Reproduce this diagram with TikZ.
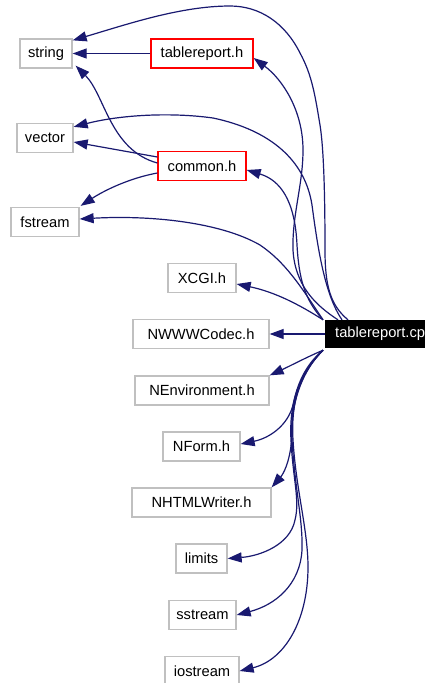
\documentclass[tikz,border=0pt]{standalone}
\usepackage{fontspec}
\setmainfont{Liberation Sans}
\usetikzlibrary{arrows.meta}
\definecolor{edgecol}{HTML}{191970}
\definecolor{boxgray}{HTML}{C0C0C0}
\tikzset{
  box/.style={draw=boxgray, line width=1.3pt, fill=white, minimum height=29pt, inner sep=0pt,
    font=\fontsize{14.7}{17}\selectfont},
  redbox/.style={box, draw=red},
  mainbox/.style={fill=black, text=white, minimum height=28pt, inner sep=0pt, minimum width=118pt,
    font=\fontsize{14.7}{17}\selectfont, anchor=west},
  edge/.style={draw=edgecol, line width=1.2pt, -{Triangle[length=14pt,width=10pt]}}
}
\begin{document}
\begin{tikzpicture}[x=1pt,y=-1pt]
\useasboundingbox (0,0) rectangle (425,683);
\clip (0,0) rectangle (425,683);
\fill[white] (0,0) rectangle (425,683);

\node[box, minimum width=52pt] (string) at (46,53.5) {string};
\node[redbox, minimum width=102pt] (treph) at (202,53.5) {tablereport.h};
\node[box, minimum width=56pt] (vector) at (45,138) {vector};
\node[redbox, minimum width=88pt] (common) at (202,166) {common.h};
\node[box, minimum width=68pt] (fstream) at (45,222) {fstream};
\node[box, minimum width=68pt] (xcgi) at (202,278) {XCGI.h};
\node[box, minimum width=136pt] (codec) at (201,334) {NWWWCodec.h};
\node[mainbox] (cpp) at (325,334) {tablereport.cpp};
\node[box, minimum width=134pt] (env) at (202,390.5) {NEnvironment.h};
\node[box, minimum width=77pt] (nform) at (201.5,446.5) {NForm.h};
\node[box, minimum width=139pt] (html) at (201.5,502.5) {NHTMLWriter.h};
\node[box, minimum width=51pt] (limits) at (201.5,558.5) {limits};
\node[box, minimum width=67pt] (sstream) at (202.5,615) {sstream};
\node[box, minimum width=74pt] (iostream) at (202,671) {iostream};

% edges from tablereport.h and common.h
\draw[edge] (treph.west) -- (string.east);
\draw[edge] ([yshift=3pt]common.west) .. controls (110,150) and (105,95) .. ([xshift=3pt,yshift=3pt]string.south east);
\draw[edge] ([yshift=9pt]common.west) -- ([yshift=-4pt]vector.east);
\draw[edge] ([yshift=-7pt]common.west) .. controls (130,178) and (105,190) .. ([xshift=1pt,yshift=1pt]fstream.north east);

% edges from tablereport.cpp upward
\draw[edge] ([xshift=23pt]cpp.north west) .. controls (330,305) and (325,285) .. (325,250)
  .. controls (325,200) and (324,150) .. (320,125)
  .. controls (315,95) and (312,75) .. (300,53)
  .. controls (285,23) and (260,6) .. (230,6)
  .. controls (180,6) and (125,25) .. ([yshift=-2pt]string.north east);
\draw[edge] ([xshift=17pt]cpp.north west) .. controls (325,295) and (318,250) .. (312,205)
  .. controls (305,160) and (270,130) .. (213,118)
  .. controls (170,112) and (120,115) .. ([yshift=-4pt]vector.north east);
\draw[edge] ([xshift=13pt]cpp.north west) .. controls (315,305) and (295,285) .. (293,250)
  .. controls (292,215) and (303,185) .. (303,150)
  .. controls (303,110) and (282,79) .. ([yshift=-4.5pt]treph.east);
\draw[edge] ([xshift=-2pt]cpp.north west) .. controls (305,300) and (299,280) .. (297,245)
  .. controls (295,200) and (280,180) .. ([yshift=-4pt]common.east);
\draw[edge] ([xshift=-2pt]cpp.north west) .. controls (300,285) and (285,262) .. (260,245)
  .. controls (220,222) and (150,215) .. ([yshift=3pt]fstream.east);
\draw[edge] ([xshift=-2pt]cpp.north west) .. controls (300,305) and (275,292) .. ([yshift=-6pt]xcgi.east);
\draw[edge] (cpp.west) -- (codec.east);

% edges from tablereport.cpp downward
\draw[edge] ([xshift=-2pt,yshift=-2pt]cpp.south west) .. controls (305,358) and (290,366) .. (env.north east);
\draw[edge] ([xshift=-2pt,yshift=-2pt]cpp.south west) .. controls (305,365) and (297,385) .. (293,405)
  .. controls (288,425) and (270,438) .. ([yshift=2.5pt]nform.east);
\draw[edge] ([xshift=-2pt,yshift=-2pt]cpp.south west) .. controls (303,370) and (292,400) .. (292,430)
  .. controls (292,455) and (285,472) .. (html.north east);
\draw[edge] ([xshift=-2pt,yshift=-2pt]cpp.south west) .. controls (298,375) and (289,405) .. (291,440)
  .. controls (293,480) and (300,500) .. (295,520)
  .. controls (290,545) and (260,556) .. (limits.east);
\draw[edge] ([xshift=-2pt,yshift=-2pt]cpp.south west) .. controls (298,375) and (290,405) .. (292,440)
  .. controls (295,490) and (303,520) .. (302,550)
  .. controls (300,585) and (275,605) .. (sstream.east);
\draw[edge] ([xshift=-2pt,yshift=-2pt]cpp.south west) .. controls (298,375) and (291,405) .. (293,440)
  .. controls (296,490) and (308,530) .. (308,567)
  .. controls (308,620) and (285,660) .. (iostream.east);
\end{tikzpicture}
\end{document}
